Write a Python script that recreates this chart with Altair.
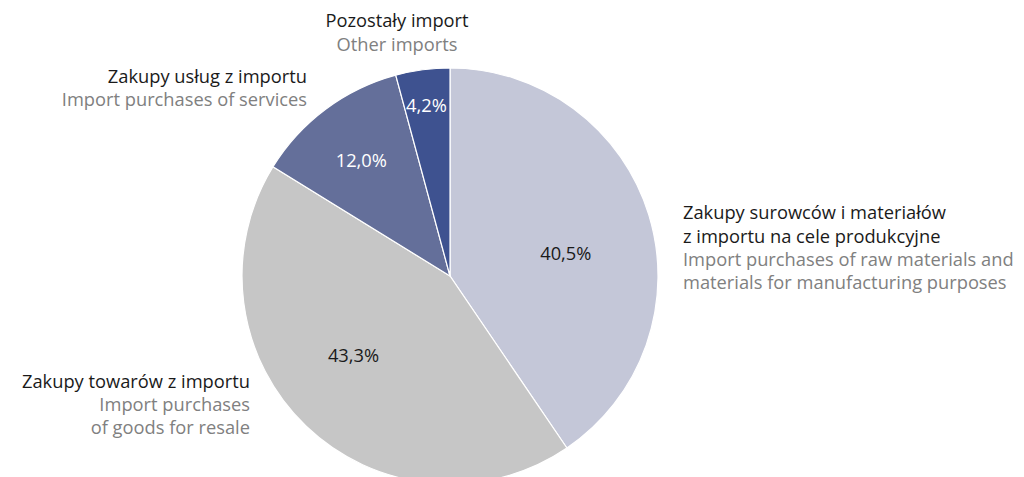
import altair as alt
import pandas as pd

categories = [
    "Zakupy surowców i materiałów z importu na cele produkcyjne",
    "Zakupy towarów z importu",
    "Zakupy usług z importu",
    "Pozostały import",
]
values = [40.5, 43.3, 12.0, 4.2]
value_labels = ["40,5%", "43,3%", "12,0%", "4,2%"]
colors = ["#c4c7d8", "#c6c6c6", "#646f9a", "#3e5290"]
label_colors = ["#1a1a1a", "#1a1a1a", "#ffffff", "#ffffff"]

df = pd.DataFrame({
    "cat": categories,
    "value": values,
    "label": value_labels,
    "order": list(range(len(categories))),
    "tcolor": label_colors,
})

FONT = "Open Sans"
FS = 18.3
CX, CY, R = 442, 268, 208

base = alt.Chart(df).encode(
    theta=alt.Theta("value:Q", stack=True),
    order=alt.Order("order:Q", sort="ascending"),
)

pie = base.mark_arc(outerRadius=R, stroke="white", strokeWidth=1.2).encode(
    x=alt.value(CX), y=alt.value(CY),
    color=alt.Color("cat:N", scale=alt.Scale(domain=categories, range=colors), legend=None),
)

# percentage labels: radius and offsets per slice
label_pos = [(118, 3, 14), (128, -8, -11), (145, -2, 2), (172, -1, 2)]
layers = [pie]
for i, (rad, dx, dy) in enumerate(label_pos):
    layers.append(
        base.mark_text(radius=rad, font=FONT, fontSize=FS, dx=dx, dy=dy).encode(
            x=alt.value(CX), y=alt.value(CY),
            text="label:N",
            color=alt.Color("tcolor:N", scale=None),
            opacity=alt.condition(alt.datum.order == i, alt.value(1), alt.value(0)),
        )
    )

# category annotations (Polish dark, English grey)
annotations = [
    # text, x, y, align, color
    ("Pozostały import", 389, 14, "center", "#1a1a1a"),
    ("Other imports", 389, 38, "center", "#808080"),
    ("Zakupy usług z importu", 299, 70, "right", "#1a1a1a"),
    ("Import purchases of services", 299, 93, "right", "#808080"),
    ("Zakupy surowców i materiałów", 675, 206, "left", "#1a1a1a"),
    ("z importu na cele produkcyjne", 675, 230, "left", "#1a1a1a"),
    ("Import purchases of raw materials and", 675, 253, "left", "#808080"),
    ("materials for manufacturing purposes", 675, 276, "left", "#808080"),
    ("Zakupy towarów z importu", 242, 375, "right", "#1a1a1a"),
    ("Import purchases", 242, 398, "right", "#808080"),
    ("of goods for resale", 242, 421, "right", "#808080"),
]
for t, x, y, al, c in annotations:
    layers.append(
        alt.Chart(pd.DataFrame({"t": [t]})).mark_text(
            font=FONT, fontSize=FS, align=al, baseline="middle", color=c
        ).encode(text="t:N", x=alt.value(x), y=alt.value(y))
    )

chart = alt.layer(*layers).properties(
    width=1008, height=469, autosize=alt.AutoSizeParams(type="none"), padding=0
).configure_view(stroke=None)

chart.save("out.html", embed_options={"renderer": "svg", "actions": False})
